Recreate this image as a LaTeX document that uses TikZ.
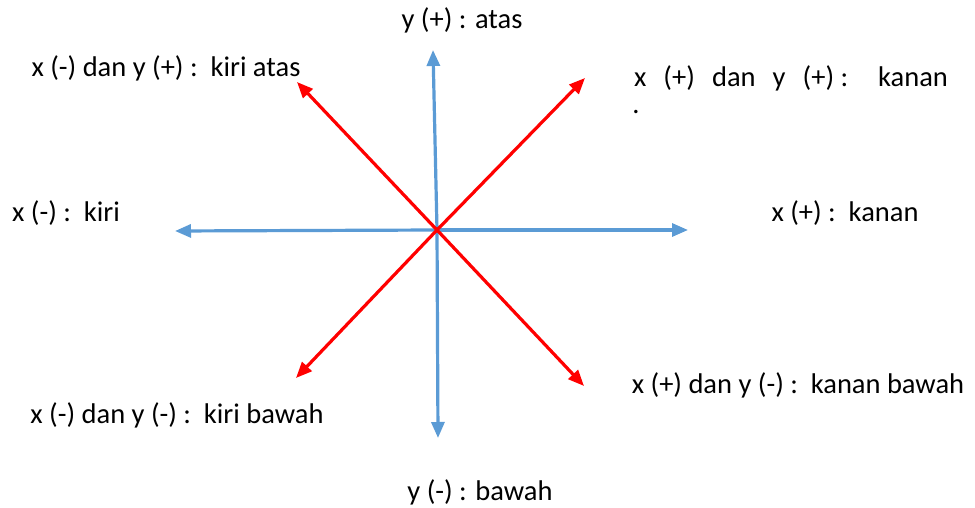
\documentclass[tikz,border=0pt]{standalone}
\usepackage{fontspec}
\setmainfont{Carlito}
\usetikzlibrary{arrows.meta}
\definecolor{axisblue}{RGB}{91,155,213}
\definecolor{diagred}{RGB}{255,0,0}
\definecolor{ink}{RGB}{0,0,0}
\tikzset{
  axis/.style={-{Triangle[length=16pt,width=13pt]}, line width=3.2pt, draw=axisblue, fill=axisblue},
  diag/.style={-{Triangle[length=16pt,width=13pt]}, line width=3.2pt, draw=diagred, fill=diagred},
  lbl/.style={font=\fontsize{28.5}{34}\selectfont, text=ink, inner sep=0pt},
}
\begin{document}
\begin{tikzpicture}[x=1pt, y=-1pt]
  \useasboundingbox (0,0) rectangle (975,508);
  \coordinate (o) at (437,230);
  % ends of the blue axes
  \coordinate (top) at (433,50);
  \coordinate (bot) at (438,438);
  \coordinate (lft) at (175,231);
  \coordinate (rgt) at (688,230);
  % ends of the red diagonals
  \coordinate (ul) at (297,82);
  \coordinate (ur) at (585,78);
  \coordinate (dl) at (296,378);
  \coordinate (dr) at (584,386);
  \draw[axis] (o) -- (top);
  \draw[axis] (o) -- (bot);
  \draw[axis] (o) -- (lft);
  \draw[axis] (o) -- (rgt);
  \draw[diag] (o) -- (ul);
  \draw[diag] (o) -- (ur);
  \draw[diag] (o) -- (dl);
  \draw[diag] (o) -- (dr);
  % labels
  \node[lbl] (atas) at (462,20) {y (+) : atas};
  \node[lbl] (bawah) at (480,492) {y (-) : bawah};
  \node[lbl] (kiri) at (66,213) {x (-) :\ \ kiri};
  \node[lbl] (kanan) at (845,213) {x (+) :\ \ kanan};
  \node[lbl] (kiriatas) at (166,68) {x (-) dan y (+) :\ \ kiri atas};
  \node[lbl] (kananatas) at (791,78) {x\hspace{0.6em}(+)\hspace{0.6em}dan\hspace{0.6em}y\hspace{0.6em}(+)\ :\hspace{1.05em}kanan};
  \node[lbl] (dot) at (636,112) {.};
  \node[lbl] (kiribawah) at (177,415) {x (-) dan y (-) :\ \ kiri bawah};
  \node[lbl] (kananbawah) at (798,385) {x (+) dan y (-) :\ \ kanan bawah};
\end{tikzpicture}
\end{document}
